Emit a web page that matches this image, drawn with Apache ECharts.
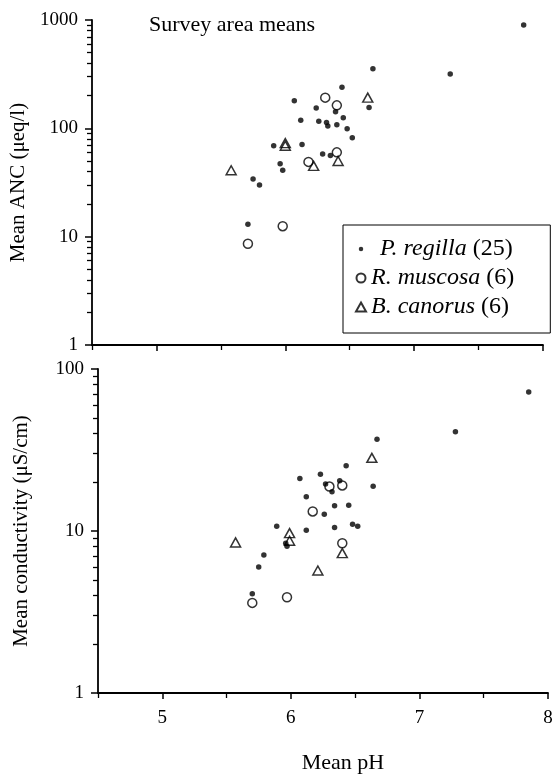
<!DOCTYPE html>
<html>
<head>
<meta charset="utf-8">
<script src="https://cdn.jsdelivr.net/npm/echarts@6/dist/echarts.min.js"></script>
<style>
  html, body { margin: 0; background: #fff; }
  #main { width: 553px; height: 777px; }
</style>
</head>
<body>
<div id="main"></div>
<script>
// survey area means, top panel: ANC
const regillaAncPH = [7.85, 6.68, 7.28, 6.44, 6.07, 6.24, 6.65, 6.39, 6.45, 6.12, 6.26, 6.32, 6.33, 6.40, 6.48, 6.52, 5.91, 6.13, 6.29, 6.35, 5.96, 5.98, 5.75, 5.80, 5.71]
const regillaAnc = [900, 355, 318, 239, 180, 154, 156, 142, 125, 119, 116, 113, 105, 108, 99, 82, 69, 71, 58, 56, 47, 41, 34, 30, 13]
const muscosaAncPH = [6.31, 6.40, 6.18, 6.40, 5.71, 5.98]
const muscosaAnc = [192, 163, 49, 60, 8.6, 12.5]
const canorusAncPH = [5.58, 6.00, 6.22, 6.41, 6.64, 6.00]
const canorusAnc = [41, 69, 45, 50, 192, 73]

// bottom panel: conductivity
const regillaCondPH = [7.85, 7.28, 6.67, 6.43, 6.07, 6.23, 6.38, 6.27, 6.32, 6.64, 6.12, 6.34, 6.45, 6.26, 5.89, 6.12, 6.34, 6.48, 6.52, 5.96, 5.97, 5.79, 5.75, 5.70]
const regillaCond = [72, 41, 36.8, 25.3, 21.1, 22.4, 20.4, 19.5, 17.5, 18.9, 16.3, 14.3, 14.4, 12.7, 10.7, 10.1, 10.5, 11.0, 10.7, 8.4, 8.05, 7.1, 6.0, 4.1]
const muscosaCondPH = [6.30, 6.40, 6.17, 6.40, 5.70, 5.97]
const muscosaCond = [18.8, 19.1, 13.2, 8.4, 3.6, 3.9]
const canorusCondPH = [6.63, 5.57, 5.99, 5.99, 6.40, 6.21]
const canorusCond = [28.3, 8.5, 9.7, 8.7, 7.3, 5.7]

// axis ticks
const phMajor = [5, 6, 7, 8]
const phMinor = [4.5, 5.5, 6.5, 7.5]
const ancMajor = [1, 10, 100, 1000]
const condMajor = [1, 10, 100]
const logMinor = [2, 3, 4, 5, 6, 7, 8, 9, 20, 30, 40, 50, 60, 70, 80, 90, 200, 300, 400, 500, 600, 700, 800, 900]

const names = ['P. regilla (25)', 'R. muscosa (6)', 'B. canorus (6)']

const serif = 'Liberation Serif'
const zip = (xs, ys) => xs.map((x, i) => [x, ys[i]])
const dotIcon = 'path://M0 0M10 10M2.5 5a2.5 2.5 0 1 0 5 0a2.5 2.5 0 1 0 -5 0Z'

const chart = echarts.init(document.getElementById('main'))

function xAxes(gridIndex, labels, name) {
  return [
    {
      type: 'value', gridIndex, position: 'bottom', min: 4.5, max: 8,
      axisLine: { show: true, lineStyle: { color: '#000', width: 1.8 } },
      axisTick: { show: true, customValues: phMajor, length: 6, lineStyle: { color: '#000', width: 1.5 } },
      axisLabel: { show: labels, customValues: phMajor, margin: 16, color: '#000', fontFamily: serif, fontSize: 19 },
      splitLine: { show: false },
      name: name, nameLocation: 'middle', nameGap: 59,
      nameTextStyle: { color: '#000', fontFamily: serif, fontSize: 22, padding: [0, 0, 0, 40] }
    },
    {
      // half-unit ticks
      type: 'value', gridIndex, position: 'bottom', offset: 0, min: 4.5, max: 8,
      axisLine: { show: false },
      axisTick: { show: true, customValues: phMinor, length: 5, lineStyle: { color: '#000', width: 1.3 } },
      axisLabel: { show: false },
      splitLine: { show: false }
    }
  ]
}

function yAxes(gridIndex, max, major, name, gap) {
  return [
    {
      type: 'log', logBase: 10, gridIndex, position: 'left', min: 1, max,
      axisLine: { show: true, lineStyle: { color: '#000', width: 1.8 } },
      axisTick: { show: true, customValues: major, length: 7, lineStyle: { color: '#000', width: 1.5 } },
      axisLabel: { customValues: major, formatter: v => String(v), margin: 14, color: '#000', fontFamily: serif, fontSize: 19 },
      splitLine: { show: false },
      name, nameLocation: 'middle', nameGap: gap,
      nameTextStyle: { color: '#000', fontFamily: serif, fontSize: 21 }
    },
    {
      // 2..9 ticks of each decade
      type: 'log', logBase: 10, gridIndex, position: 'left', offset: 0, min: 1, max,
      axisLine: { show: false },
      axisTick: { show: true, customValues: logMinor.filter(v => v < max), length: 5, lineStyle: { color: '#000', width: 1.3 } },
      axisLabel: { show: false },
      splitLine: { show: false }
    }
  ]
}

const dotStyle = { color: '#000' }
const hollow = { color: 'rgba(0,0,0,0)', borderColor: '#000', borderWidth: 1.5 }

function panel(xi, yi, sets) {
  return [
    { name: names[0], type: 'scatter', xAxisIndex: xi, yAxisIndex: yi, data: zip(sets[0], sets[1]), symbol: 'circle', symbolSize: 5.5, itemStyle: dotStyle, z: 3 },
    { name: names[1], type: 'scatter', xAxisIndex: xi, yAxisIndex: yi, data: zip(sets[2], sets[3]), symbol: 'circle', symbolSize: 9, itemStyle: hollow },
    { name: names[2], type: 'scatter', xAxisIndex: xi, yAxisIndex: yi, data: zip(sets[4], sets[5]), symbol: 'triangle', symbolSize: [10, 9], itemStyle: hollow }
  ]
}

const option = {
  animation: false,
  title: {
    text: 'Survey area means', left: 144, top: 9,
    textStyle: { color: '#000', fontFamily: serif, fontWeight: 'normal', fontSize: 22 }
  },
  grid: [
    { left: 92, top: 20, width: 451, height: 325, outerBoundsMode: 'none' },
    { left: 98, top: 369, width: 450, height: 324, outerBoundsMode: 'none' }
  ],
  xAxis: [...xAxes(0, false, ''), ...xAxes(1, true, 'Mean pH')],
  yAxis: [
    ...yAxes(0, 1000, ancMajor, 'Mean ANC (μeq/l)', 50),
    ...yAxes(1, 100, condMajor, 'Mean conductivity (μS/cm)', 66)
  ],
  legend: {
    orient: 'vertical', left: 343, top: 225,
    padding: [12, 36, 14, 12],
    borderColor: '#000', borderWidth: 1,
    itemWidth: 10, itemHeight: 9, itemGap: 5,
    data: [
      { name: names[0], icon: dotIcon },
      { name: names[1], icon: 'circle' },
      { name: names[2], icon: 'triangle' }
    ],
    formatter: n => {
      const m = n.match(/^(.*) (\(\d+\))$/)
      return (n === names[0] ? '{pad|}' : '') + '{i|' + m[1] + '} ' + m[2]
    },
    textStyle: {
      color: '#000', fontFamily: serif, fontSize: 24, lineHeight: 23,
      rich: {
        i: { fontStyle: 'italic', fontFamily: serif, fontSize: 24, color: '#000' },
        pad: { width: 9 }
      }
    }
  },
  series: [
    ...panel(0, 0, [regillaAncPH, regillaAnc, muscosaAncPH, muscosaAnc, canorusAncPH, canorusAnc]),
    ...panel(2, 2, [regillaCondPH, regillaCond, muscosaCondPH, muscosaCond, canorusCondPH, canorusCond])
  ]
}

chart.setOption(option)
</script>
</body>
</html>
